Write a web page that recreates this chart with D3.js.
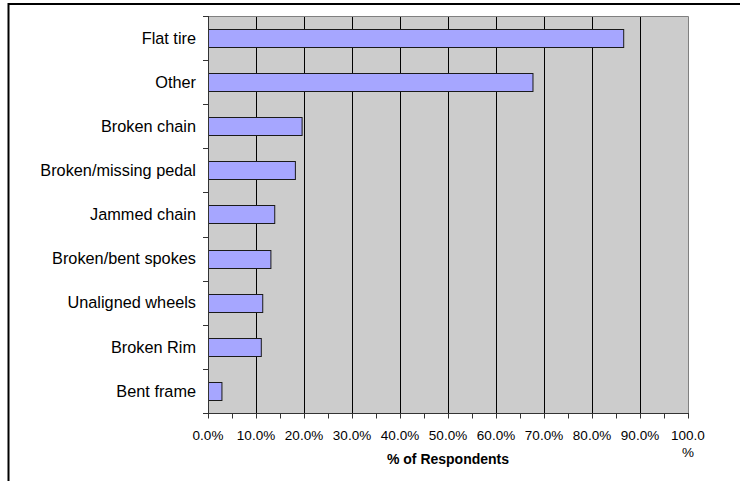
<!DOCTYPE html>
<html>
<head>
<meta charset="utf-8">
<script src="https://cdn.jsdelivr.net/npm/d3@7"></script>
<style>
  html, body { margin: 0; padding: 0; background: #fff; }
  svg { display: block; font-family: "Liberation Sans", Arial, sans-serif; }
</style>
</head>
<body>
<svg id="chart" width="740" height="481"></svg>
<script>
// Bicycle problems reported, share of respondents (%)
const categories = [
  "Flat tire", "Other", "Broken chain", "Broken/missing pedal", "Jammed chain",
  "Broken/bent spokes", "Unaligned wheels", "Broken Rim", "Bent frame"
];
const percentValues = [86.5, 67.6, 19.5, 18.1, 13.8, 13.0, 11.3, 11.0, 2.8];
const xTickValues = [0, 10, 20, 30, 40, 50, 60, 70, 80, 90, 100];
const xMinorTicks = [5, 15, 25, 35, 45, 55, 65, 75, 85, 95];
const xAxisTitle = "% of Respondents";

const svg = d3.select("#chart");

// outer frame (top and left edges visible)
svg.append("line").attr("x1", 8).attr("x2", 740).attr("y1", 4).attr("y2", 4)
  .attr("stroke", "#000").attr("stroke-width", 2);
svg.append("line").attr("x1", 8.5).attr("x2", 8.5).attr("y1", 3).attr("y2", 481)
  .attr("stroke", "#000").attr("stroke-width", 2);

const plot = { left: 208, right: 688, top: 16, bottom: 413 };

const x = d3.scaleLinear().domain([0, 100]).range([plot.left, plot.right]);
const y = d3.scaleBand().domain(categories).range([plot.top, plot.bottom]).padding(0);
const barH = y.bandwidth() * 0.41;

// plot background
svg.append("rect")
  .attr("x", plot.left).attr("y", plot.top)
  .attr("width", plot.right - plot.left).attr("height", plot.bottom - plot.top)
  .attr("fill", "#cccccc");

// vertical gridlines
svg.append("g").selectAll("line")
  .data(xTickValues.filter(v => v > 0 && v < 100))
  .join("line")
  .attr("x1", d => Math.round(x(d)) + 0.5).attr("x2", d => Math.round(x(d)) + 0.5)
  .attr("y1", plot.top).attr("y2", plot.bottom)
  .attr("stroke", "#000").attr("stroke-width", 1);

// plot border top/right
svg.append("path")
  .attr("d", `M${plot.left},${plot.top + 0.5}H${plot.right + 0.5}V${plot.bottom}`)
  .attr("fill", "none").attr("stroke", "#808080").attr("stroke-width", 1);

// bars
svg.append("g").selectAll("rect")
  .data(categories.map((c, i) => ({ c, v: percentValues[i] })))
  .join("rect")
  .attr("x", x(0) + 0.5)
  .attr("y", d => Math.round(y(d.c) + (y.bandwidth() - barH) / 2) + 0.5)
  .attr("width", d => x(d.v) - x(0))
  .attr("height", Math.round(barH))
  .attr("fill", "#a6a6ff")
  .attr("stroke", "#1a1a1a")
  .attr("stroke-width", 1);

// y axis: line, ticks at band boundaries, labels
svg.append("line")
  .attr("x1", plot.left + 0.5).attr("x2", plot.left + 0.5)
  .attr("y1", plot.top).attr("y2", plot.bottom)
  .attr("stroke", "#333").attr("stroke-width", 1);

const boundaries = categories.map(c => y(c)).concat([plot.bottom]);
svg.append("g").selectAll("line")
  .data(boundaries)
  .join("line")
  .attr("x1", plot.left - 5).attr("x2", plot.left)
  .attr("y1", d => Math.round(d) + 0.5).attr("y2", d => Math.round(d) + 0.5)
  .attr("stroke", "#333");

svg.append("g").selectAll("text")
  .data(categories)
  .join("text")
  .attr("x", plot.left - 12)
  .attr("y", d => y(d) + y.bandwidth() / 2)
  .attr("dy", "0.35em")
  .attr("text-anchor", "end")
  .attr("font-size", 16.3)
  .attr("fill", "#000")
  .text(d => d);

// x axis
const xAxis = d3.axisBottom(x)
  .tickValues(xTickValues.concat(xMinorTicks))
  .tickSize(5)
  .tickFormat(() => "");
const gx = svg.append("g")
  .attr("transform", `translate(0,${plot.bottom + 0.5})`)
  .call(xAxis);
gx.select(".domain").attr("stroke", "#333").attr("d", `M${plot.left},0H${plot.right + 1}`);
gx.selectAll(".tick line").attr("stroke", "#333");

// x tick labels (100.0% wraps to two lines)
const labels = svg.append("g");
xTickValues.forEach(v => {
  const s = v.toFixed(1) + "%";
  const t = labels.append("text")
    .attr("x", x(v))
    .attr("y", 440)
    .attr("text-anchor", "middle")
    .attr("font-size", 13.5)
    .attr("fill", "#000");
  if (v === 100) {
    t.append("tspan").attr("x", x(v)).text(s.slice(0, -1));
    t.append("tspan").attr("x", x(v)).attr("dy", 17).text("%");
  } else {
    t.text(s);
  }
});

// x axis title
svg.append("text")
  .attr("x", (plot.left + plot.right) / 2)
  .attr("y", 464)
  .attr("text-anchor", "middle")
  .attr("font-size", 14)
  .attr("font-weight", "bold")
  .attr("fill", "#000")
  .text(xAxisTitle);
</script>
</body>
</html>
